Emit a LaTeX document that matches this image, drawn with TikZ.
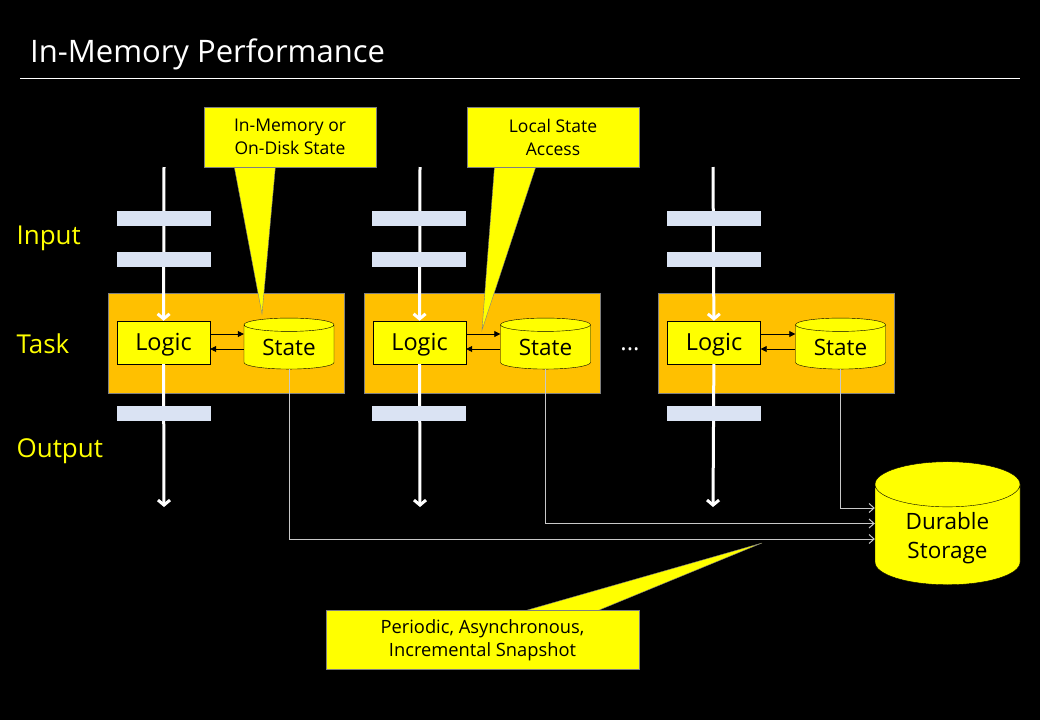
\documentclass[tikz,border=0pt]{standalone}
\usepackage{fontspec}
\setmainfont{Open Sans}
\usetikzlibrary{shapes.geometric,arrows.meta}
\definecolor{calloutyellow}{RGB}{255,255,0}
\definecolor{taskorange}{RGB}{255,192,0}
\definecolor{queueblue}{RGB}{218,227,243}
\definecolor{linkgray}{RGB}{200,200,200}
\begin{document}
\begin{tikzpicture}[x=1pt, y=-1pt
            , task/.style={draw=gray, fill=taskorange, minimum width=236pt, minimum height=100pt},
            logic/.style={draw=black, fill=calloutyellow, minimum width=93pt, minimum height=43pt, text height=20pt, text depth=4pt, font=\fontsize{23.5}{26}\selectfont},
            state/.style={cylinder, shape border rotate=90, aspect=0.25, draw=black, fill=calloutyellow, minimum width=90pt, minimum height=51pt, inner sep=0pt, font=\fontsize{22.5}{26}\selectfont},
            queue/.style={fill=queueblue, minimum width=94pt, minimum height=15pt, inner sep=0pt},
            flow/.style={white, line width=3pt, -{Straight Barb[length=5pt,width=12pt]}},
            access/.style={black, line width=0.8pt, -{Triangle[length=6pt,width=6pt]}},
            snap/.style={linkgray, line width=1pt, -{Straight Barb[length=5pt,width=9pt]}},
            rowlabel/.style={anchor=west, text=calloutyellow, font=\fontsize{26}{30}\selectfont},
            callout/.style={draw=gray, fill=calloutyellow, align=center, font=\fontsize{17.5}{23}\selectfont}]
        % background and title
        \fill[black] (0,0) rectangle (1040,720);
        \node[anchor=base west, text=white, font=\fontsize{31}{36}\selectfont, inner sep=0pt] (title) at (30,62) {In-Memory Performance};
        \draw[white, line width=1pt] (20,78) -- (1020,78);
        \node[rowlabel] (input) at (13,238) {Input};
        \node[rowlabel] (tasklabel) at (13,344) {Task};
        \node[rowlabel] (output) at (13,451) {Output};
        % tasks
        \node[task] (task1) at (226,343) {};
        \node[task] (task2) at (482.5,343) {};
        \node[task] (task3) at (776.5,343) {};
        \node[logic] (logic1) at (163.5,342.5) {Logic};
        \node[logic] (logic2) at (419.5,342.5) {Logic};
        \node[logic] (logic3) at (714,342.5) {Logic};
        \node[state] (state1) at (289,347) {State};
        \node[state] (state2) at (545.5,347) {State};
        \node[state] (state3) at (840.5,347) {State};
        \node[font=\fontsize{24}{26}\selectfont, text=white] (dots) at (630,349) {...};
        % streams
        \coordinate (in1) at (164,167);
        \coordinate (in2) at (420,167);
        \coordinate (in3) at (713,167);
        \coordinate (out1) at (164,507);
        \coordinate (out2) at (420,507);
        \coordinate (out3) at (713,507);
        \draw[flow] (in1) -- (logic1);
        \draw[flow] (in2) -- (logic2);
        \draw[flow] (in3) -- (logic3);
        \draw[flow] (logic1) -- (out1);
        \draw[flow] (logic2) -- (out2);
        \draw[flow] (logic3) -- (out3);
        \node[queue] (q1a) at (164,218.5) {};
        \node[queue] (q1b) at (164,259.5) {};
        \node[queue] (q1c) at (164,413.5) {};
        \node[queue] (q2a) at (419,218.5) {};
        \node[queue] (q2b) at (419,259.5) {};
        \node[queue] (q2c) at (419,413.5) {};
        \node[queue] (q3a) at (714,218.5) {};
        \node[queue] (q3b) at (714,259.5) {};
        \node[queue] (q3c) at (714,413.5) {};
        % local state access
        \draw[access] ([yshift=8.5pt]logic1.east) -- ([yshift=8.5pt]logic1.east -| state1.west);
        \draw[access] ([yshift=-6.5pt]logic1.east -| state1.west) -- ([yshift=-6.5pt]logic1.east);
        \draw[access] ([yshift=8.5pt]logic2.east) -- ([yshift=8.5pt]logic2.east -| state2.west);
        \draw[access] ([yshift=-6.5pt]logic2.east -| state2.west) -- ([yshift=-6.5pt]logic2.east);
        \draw[access] ([yshift=8.5pt]logic3.east) -- ([yshift=8.5pt]logic3.east -| state3.west);
        \draw[access] ([yshift=-6.5pt]logic3.east -| state3.west) -- ([yshift=-6.5pt]logic3.east);
        % durable storage and snapshots
        \node[cylinder, shape border rotate=90, aspect=0.5, draw=black, fill=calloutyellow, minimum width=145pt, minimum height=123pt, align=center, font=\fontsize{22.5}{29}\selectfont] (store) at (947.5,538) {Durable\\Storage};
        \draw[snap] (state3.south) |- (store.west |- 0,508);
        \draw[snap] (state2.south) |- (store.west |- 0,523.5);
        \draw[snap] (state1.south) |- (store.west |- 0,539);
        % callouts
        \coordinate (tip1) at (262,314);
        \coordinate (tip2) at (482,330);
        \coordinate (tip3) at (762,543);
        \filldraw[draw=gray, fill=calloutyellow] (233,160) -- (tip1) -- (276,160) -- cycle;
        \filldraw[draw=gray, fill=calloutyellow] (495,160) -- (tip2) -- (538,160) -- cycle;
        \filldraw[draw=gray, fill=calloutyellow] (510,615) -- (tip3) -- (587,615) -- cycle;
        \node[callout, minimum width=172pt, minimum height=60pt] (note1) at (290,137) {In-Memory or\\On-Disk State};
        \node[callout, minimum width=172pt, minimum height=60pt] (note2) at (553,137) {Local State\\Access};
        \node[callout, minimum width=313pt, minimum height=59pt, font=\fontsize{18.3}{23}\selectfont] (note3) at (482.5,640) {Periodic, Asynchronous,\\Incremental Snapshot};
\end{tikzpicture}
\end{document}
